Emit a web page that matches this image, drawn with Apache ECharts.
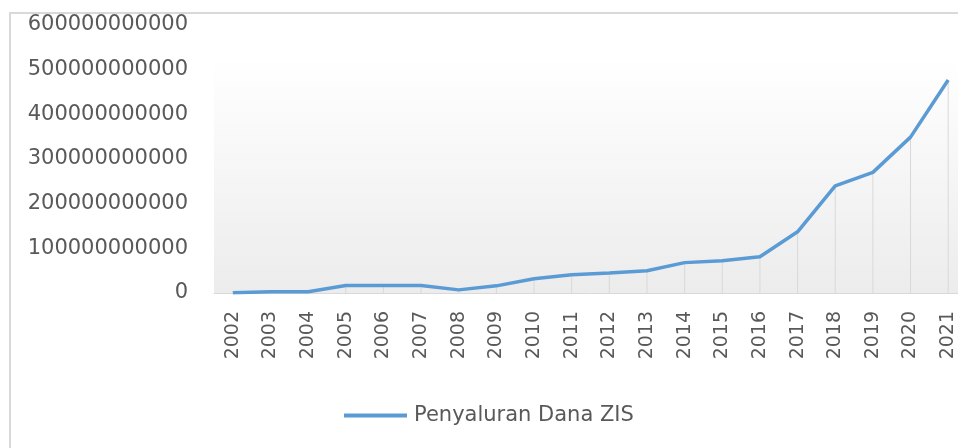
<!DOCTYPE html>
<html>
<head>
<meta charset="utf-8">
<script src="https://cdn.jsdelivr.net/npm/echarts@6/dist/echarts.min.js"></script>
<style>
  html, body { margin: 0; padding: 0; background: #fff; overflow: hidden; }
  /* the original picture is cropped on the right, so the canvas is a bit wider than the window */
  #chart { width: 970px; height: 448px; }
</style>
</head>
<body>
<div id="chart"></div>
<script>
// tahun dan penyaluran dana ZIS (rupiah)
const years = ['2002', '2003', '2004', '2005', '2006', '2007', '2008', '2009', '2010', '2011',
    '2012', '2013', '2014', '2015', '2016', '2017', '2018', '2019', '2020', '2021']
const penyaluran = [0.5e9, 3e9, 3e9, 17e9, 17e9, 17e9, 7e9, 16e9, 32e9, 41e9,
    45e9, 50e9, 68e9, 72e9, 81e9, 137e9, 240e9, 270e9, 349e9, 477e9]
const seriesName = 'Penyaluran Dana ZIS'

const textColor = '#595959'
const fontFamily = '"DejaVu Sans", Verdana, sans-serif'

const chart = echarts.init(document.getElementById('chart'))

const option = {
    animation: false,
    textStyle: { fontFamily: fontFamily },
    graphic: [{
        type: 'rect',
        shape: { x: 10, y: 13, width: 1000, height: 500 },
        style: { fill: 'none', stroke: '#d9d9d9', lineWidth: 2 },
        silent: true,
        z: -1
    }],
    grid: {
        left: 214,
        top: 25,
        width: 753,
        height: 268,
        show: true,
        borderWidth: 0,
        backgroundColor: new echarts.graphic.LinearGradient(0, 0, 0, 1, [
            { offset: 0, color: '#ffffff' },
            { offset: 0.12, color: '#ffffff' },
            { offset: 1, color: '#ececec' }
        ])
    },
    legend: {
        data: [seriesName],
        left: 339,
        top: 400,
        icon: 'rect',
        itemWidth: 63,
        itemHeight: 4,
        itemGap: 10,
        textStyle: { color: textColor, fontSize: 21, fontFamily: fontFamily, padding: [0, 0, 0, 2] }
    },
    xAxis: {
        type: 'category',
        data: years,
        boundaryGap: true,
        axisLine: { lineStyle: { color: '#d9d9d9', width: 1 } },
        axisTick: { show: false },
        axisLabel: {
            rotate: 90,
            margin: 18,
            color: textColor,
            fontSize: 19,
            fontFamily: fontFamily
        }
    },
    yAxis: {
        type: 'value',
        min: 0,
        max: 600e9,
        interval: 100e9,
        axisLine: { show: false },
        axisTick: { show: false },
        splitLine: { show: false },
        axisLabel: {
            margin: 26,
            color: textColor,
            fontSize: 21,
            fontFamily: fontFamily,
            formatter: v => String(v)
        }
    },
    series: [
        {
            // garis jatuh (drop lines) ke sumbu
            type: 'bar',
            name: 'drop',
            data: penyaluran,
            barWidth: 1,
            silent: true,
            itemStyle: { color: '#d9d9d9' },
            z: 1
        },
        {
            type: 'line',
            name: seriesName,
            data: penyaluran,
            symbol: 'none',
            color: '#5b9bd5',
            lineStyle: { color: '#5b9bd5', width: 3.5 },
            z: 3
        }
    ]
}

chart.setOption(option)
</script>
</body>
</html>
